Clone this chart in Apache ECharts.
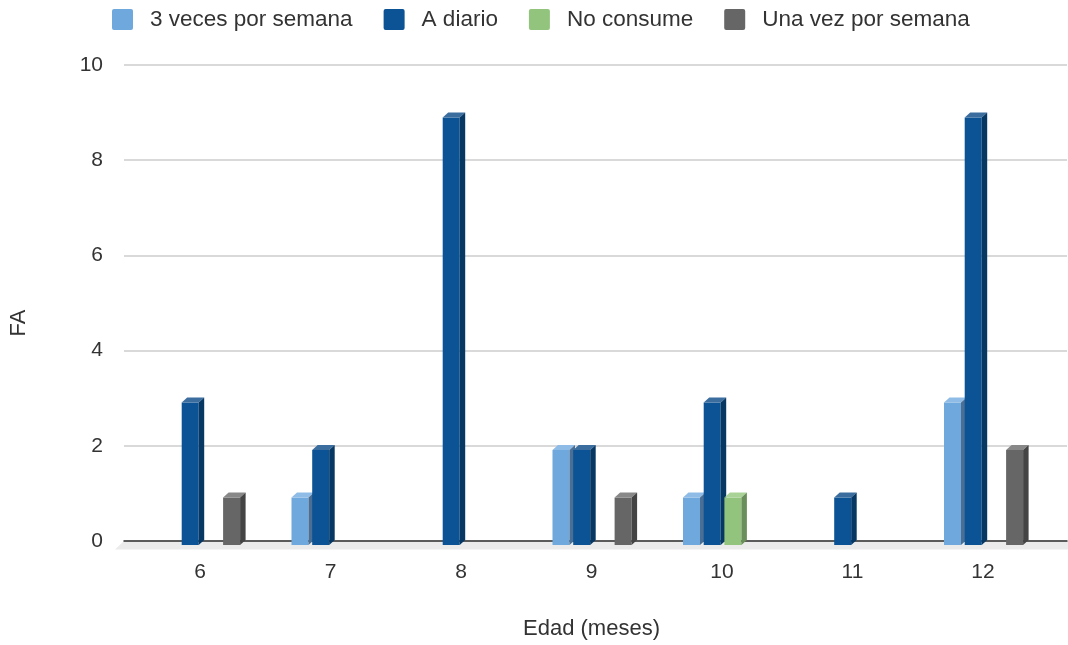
<!DOCTYPE html>
<html>
<head>
<meta charset="utf-8">
<script src="https://cdn.jsdelivr.net/npm/echarts@6/dist/echarts.min.js"></script>
<style>
html,body{margin:0;padding:0;background:#fff;}
#chart{width:1068px;height:645px;}
</style>
</head>
<body>
<div id="chart"></div>
<script>
const categories = ['6', '7', '8', '9', '10', '11', '12'];
const seriesNames = ['3 veces por semana', 'A diario', 'No consume', 'Una vez por semana'];
const tresVeces = [0, 1, 0, 2, 1, 0, 3];
const aDiario = [3, 2, 9, 2, 3, 1, 9];
const noConsume = [0, 0, 0, 0, 1, 0, 0];
const unaVez = [1, 0, 0, 1, 0, 0, 2];
const yTicks = [0, 2, 4, 6, 8, 10];

const seriesData = [tresVeces, aDiario, noConsume, unaVez];
const palette = [
  { front: '#6fa8dc', top: '#8fbce6', side: '#4b6f94' },
  { front: '#0b5394', top: '#3b6e9f', side: '#073763' },
  { front: '#93c47d', top: '#a9d296', side: '#6b8f5b' },
  { front: '#666666', top: '#888888', side: '#444444' }
];

const BAR_W = 17, PITCH = 20.7, FIRST = -39, DX = 5.5, DY = 5;
const FONT = 'Liberation Sans, Arial, sans-serif';
const TXT = '#333333';
const ICON = 'path://M2,0H19A2,2,0,0,1,21,2V19A2,2,0,0,1,19,21H2A2,2,0,0,1,0,19V2A2,2,0,0,1,2,0Z';

function makeRender(k) {
  return function (params, api) {
    const v = api.value(1);
    if (!v) return null;
    const top = api.coord([api.value(0), v]);
    const base = api.coord([api.value(0), 0]);
    const xf = top[0] + FIRST + k * PITCH;
    const t = top[1], b = base[1];
    const c = palette[k];
    return {
      type: 'group',
      children: [
        { type: 'rect', shape: { x: xf, y: t + DY, width: BAR_W, height: b - t }, style: { fill: c.front } },
        { type: 'polygon', shape: { points: [[xf, t + DY], [xf + DX, t], [xf + BAR_W + DX, t], [xf + BAR_W, t + DY]] }, style: { fill: c.top } },
        { type: 'polygon', shape: { points: [[xf + BAR_W, t + DY], [xf + BAR_W + DX, t], [xf + BAR_W + DX, b], [xf + BAR_W, b + DY]] }, style: { fill: c.side } }
      ]
    };
  };
}

const chart = echarts.init(document.getElementById('chart'));
chart.setOption({
  animation: false,
  textStyle: { fontFamily: FONT },
  legend: {
    left: 107, top: 3,
    itemWidth: 21, itemHeight: 21, itemGap: 31,
    icon: ICON,
    textStyle: { fontSize: 22.5, color: TXT, fontFamily: FONT, padding: [0, 0, 0, 12] },
    data: seriesNames
  },
  graphic: [{
    type: 'polygon', z: -10,
    shape: { points: [[124, 541], [1068, 541], [1068, 549.5], [115, 549.5]] },
    style: { fill: '#ebebeb' }
  }],
  grid: [
    { left: 124, right: 1, top: 65, bottom: 104 },
    { left: 134.75, right: 19.75, top: 65, bottom: 104 }
  ],
  xAxis: [
    {
      gridIndex: 0, type: 'value', min: 0, max: 1, z: 1,
      axisLine: { show: true, lineStyle: { color: '#333333', width: 1.5 } },
      axisTick: { show: false }, axisLabel: { show: false }, splitLine: { show: false }
    },
    {
      gridIndex: 1, type: 'category', data: categories,
      axisLine: { show: false }, axisTick: { show: false },
      axisLabel: { fontSize: 21, color: TXT, margin: 22, fontFamily: FONT },
      name: 'Edad (meses)', nameLocation: 'middle', nameGap: 78,
      nameTextStyle: { fontSize: 22, color: TXT, fontFamily: FONT }
    }
  ],
  yAxis: [
    {
      gridIndex: 0, type: 'value', min: 0, max: 10, interval: 2,
      axisLine: { show: false }, axisTick: { show: false },
      axisLabel: { fontSize: 21, color: TXT, margin: 21, fontFamily: FONT,
        formatter: function (v) { return yTicks.indexOf(v) >= 0 ? String(v) : ''; } },
      splitLine: { lineStyle: { color: '#cccccc', width: 1.5 } },
      name: 'FA', nameLocation: 'middle', nameGap: 94,
      nameTextStyle: { fontSize: 22, color: TXT, fontFamily: FONT, padding: [0, 40, 0, 0] }
    },
    {
      gridIndex: 1, type: 'value', min: 0, max: 10, show: false,
      splitLine: { show: false }
    }
  ],
  series: seriesData.map(function (arr, k) {
    return {
      name: seriesNames[k],
      type: 'custom',
      xAxisIndex: 1, yAxisIndex: 1,
      itemStyle: { color: palette[k].front },
      renderItem: makeRender(k),
      encode: { x: 0, y: 1 },
      data: arr.map(function (v, i) { return [i, v]; }),
      z: 5
    };
  })
});
</script>
</body>
</html>
